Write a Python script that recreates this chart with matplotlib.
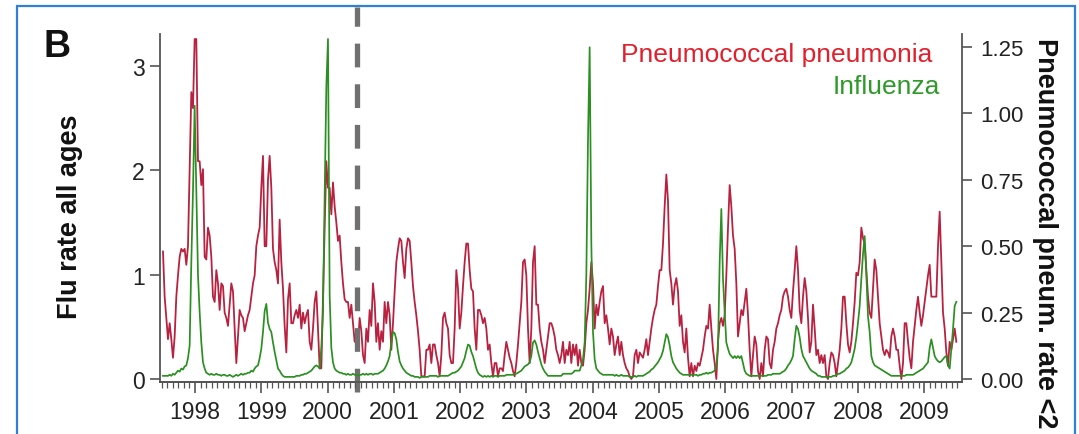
import numpy as np
import matplotlib.pyplot as plt
from matplotlib.ticker import MultipleLocator, FixedLocator
from matplotlib.patches import Rectangle

plt.rcParams['font.family'] = ['Liberation Sans', 'DejaVu Sans']

# sampling grid of the traces (decimal years)
t_start = 1997.517
t_step = 0.02514

# pneumococcal pneumonia rate <2 (right axis)
pneumo = [
    0.48, 0.31, 0.23, 0.15, 0.21, 0.15, 0.08, 0.16, 0.31, 0.39, 0.46, 0.49, 0.48, 0.49, 0.43, 0.50,
    0.79, 1.08, 1.02, 1.28, 1.28, 0.82, 0.82, 0.73, 0.79, 0.46, 0.45, 0.57, 0.54, 0.46, 0.31, 0.29,
    0.41, 0.36, 0.26, 0.36, 0.35, 0.25, 0.23, 0.20, 0.28, 0.36, 0.33, 0.19, 0.06, 0.16, 0.26, 0.24,
    0.23, 0.18, 0.21, 0.24, 0.26, 0.31, 0.36, 0.39, 0.50, 0.54, 0.57, 0.72, 0.84, 0.50, 0.50, 0.75,
    0.84, 0.72, 0.49, 0.44, 0.41, 0.36, 0.60, 0.44, 0.34, 0.20, 0.10, 0.30, 0.36, 0.21,
    # 1999.5 - 2001.5
    0.21, 0.24, 0.26, 0.23, 0.28, 0.19, 0.25, 0.21, 0.24, 0.26,
    0.14, 0.11, 0.19, 0.29, 0.33, 0.19, 0.04, 0.04, 0.31, 0.57,
    0.82, 0.72, 0.72, 0.62, 0.74, 0.65, 0.59, 0.52, 0.54, 0.44,
    0.36, 0.30, 0.29, 0.29, 0.23, 0.28, 0.21, 0.14, 0.18, 0.13,
    0.23, 0.18, 0.09, 0.06, 0.19, 0.14, 0.26, 0.20, 0.36, 0.29,
    0.14, 0.21, 0.11, 0.18, 0.14, 0.29, 0.21, 0.29, 0.24, 0.11,
    0.21, 0.33, 0.44, 0.49, 0.53, 0.52, 0.44, 0.38, 0.49, 0.53,
    0.52, 0.44, 0.35, 0.29, 0.24, 0.18, 0.11, 0.01, 0.01, 0.01,
    0.11,
    # 2001.5 - 2003.5
    0.11, 0.13, 0.06, 0.13, 0.13, 0.09, 0.06, 0.01, 0.09, 0.23,
    0.25, 0.21, 0.19, 0.09, 0.06, 0.06, 0.19, 0.41, 0.34, 0.19,
    0.25, 0.35, 0.44, 0.51, 0.51, 0.41, 0.34, 0.33, 0.19, 0.11,
    0.26, 0.26, 0.24, 0.21, 0.23, 0.19, 0.11, 0.13, 0.06, 0.01,
    0.06, 0.06, 0.01, 0.04, 0.04, 0.03, 0.09, 0.14, 0.11, 0.08,
    0.06, 0.03, 0.01, 0.06, 0.13, 0.21, 0.29, 0.44, 0.45, 0.39,
    0.19, 0.06, 0.19, 0.44, 0.50, 0.28, 0.28, 0.19, 0.14, 0.11,
    0.06, 0.11, 0.16, 0.21, 0.21, 0.19, 0.16, 0.11, 0.09, 0.06,
    0.09,
    # 2003.5 - 2005.5
    0.14, 0.06, 0.11, 0.09, 0.14, 0.06, 0.13, 0.09, 0.13, 0.05,
    0.11, 0.06, 0.05, 0.11, 0.21, 0.26, 0.34, 0.44, 0.36, 0.19,
    0.28, 0.24, 0.29, 0.33, 0.35, 0.21, 0.24, 0.19, 0.13, 0.19,
    0.16, 0.09, 0.13, 0.16, 0.09, 0.14, 0.09, 0.06, 0.04, 0.03,
    0.01, 0.00, 0.01, 0.09, 0.11, 0.06, 0.10, 0.09, 0.08, 0.11,
    0.15, 0.09, 0.14, 0.19, 0.23, 0.26, 0.28, 0.35, 0.41, 0.41,
    0.51, 0.65, 0.77, 0.67, 0.41, 0.36, 0.28, 0.35, 0.38, 0.33,
    0.20, 0.24, 0.14, 0.10, 0.19, 0.08, 0.01, 0.06, 0.01, 0.05,
    0.03,
    # 2005.5 - 2007.5
    0.06, 0.05, 0.08, 0.11, 0.16, 0.20, 0.19, 0.28, 0.19, 0.11,
    0.06, 0.00, 0.14, 0.21, 0.23, 0.20, 0.24, 0.39, 0.57, 0.73,
    0.65, 0.54, 0.49, 0.36, 0.16, 0.21, 0.26, 0.24, 0.29, 0.34,
    0.24, 0.11, 0.01, 0.09, 0.16, 0.13, 0.03, 0.00, 0.06, 0.01,
    0.11, 0.16, 0.15, 0.06, 0.04, 0.11, 0.14, 0.19, 0.21, 0.24,
    0.26, 0.31, 0.33, 0.34, 0.31, 0.26, 0.23, 0.33, 0.41, 0.50,
    0.41, 0.26, 0.21, 0.31, 0.38, 0.33, 0.23, 0.10, 0.14, 0.28,
    0.19, 0.09, 0.11, 0.06, 0.09, 0.06, 0.09, 0.01, 0.00, 0.06,
    0.10,
    # 2007.6 - 2009.5
    0.09, 0.06, 0.01, 0.06, 0.11, 0.19, 0.31, 0.31, 0.21, 0.13,
    0.10, 0.14, 0.21, 0.29, 0.40, 0.39, 0.44, 0.57, 0.53, 0.51,
    0.41, 0.31, 0.25, 0.23, 0.34, 0.45, 0.41, 0.31, 0.21, 0.16,
    0.11, 0.09, 0.11, 0.10, 0.08, 0.16, 0.19, 0.16, 0.11, 0.11,
    0.05, 0.00, 0.06, 0.21, 0.21, 0.14, 0.08, 0.04, 0.14, 0.20,
    0.26, 0.31, 0.25, 0.20, 0.24, 0.29, 0.34, 0.39, 0.43, 0.31,
    0.31, 0.31, 0.31, 0.50, 0.63, 0.44, 0.25, 0.19, 0.10, 0.05,
    0.14, 0.11, 0.15, 0.19, 0.14,
]

# influenza rate, all ages (left axis)
flu = [
    0.03, 0.03, 0.03, 0.03, 0.04, 0.03, 0.05, 0.04, 0.06, 0.08,
    0.07, 0.10, 0.09, 0.12, 0.13, 0.20, 0.32, 1.12, 1.80, 2.62,
    1.80, 1.00, 0.64, 0.35, 0.16, 0.10, 0.06, 0.05, 0.04, 0.05,
    0.04, 0.04, 0.05, 0.04, 0.04, 0.03, 0.04, 0.04, 0.03, 0.03,
    0.04, 0.03, 0.02, 0.03, 0.04, 0.03, 0.04, 0.05, 0.04, 0.05,
    0.05, 0.06, 0.06, 0.08, 0.07, 0.10, 0.12, 0.13, 0.20, 0.29,
    0.45, 0.65, 0.72, 0.54, 0.48, 0.45, 0.35, 0.26, 0.18, 0.10,
    0.08, 0.05, 0.03, 0.02, 0.02, 0.02, 0.02, 0.02,
    # 1999.5 - 2001.5
    0.02, 0.02, 0.03, 0.03, 0.03, 0.04, 0.04, 0.05, 0.05, 0.06,
    0.07, 0.08, 0.10, 0.12, 0.13, 0.12, 0.10, 0.30, 0.64, 1.76,
    2.80, 3.26, 0.80, 0.30, 0.16, 0.10, 0.08, 0.07, 0.06, 0.06,
    0.05, 0.05, 0.04, 0.05, 0.04, 0.04, 0.05, 0.04, 0.04, 0.03,
    0.04, 0.04, 0.05, 0.04, 0.05, 0.04, 0.05, 0.05, 0.04, 0.05,
    0.05, 0.05, 0.06, 0.07, 0.08, 0.10, 0.13, 0.17, 0.22, 0.35,
    0.45, 0.44, 0.38, 0.26, 0.17, 0.13, 0.10, 0.08, 0.06, 0.05,
    0.04, 0.03, 0.03, 0.02, 0.02, 0.02, 0.01, 0.02, 0.02, 0.02,
    0.02,
    # 2001.5 - 2003.5
    0.02, 0.03, 0.03, 0.03, 0.03, 0.03, 0.02, 0.03, 0.03, 0.03,
    0.03, 0.03, 0.03, 0.04, 0.05, 0.06, 0.06, 0.07, 0.08, 0.10,
    0.12, 0.16, 0.20, 0.27, 0.33, 0.32, 0.26, 0.22, 0.16, 0.10,
    0.06, 0.04, 0.03, 0.02, 0.03, 0.02, 0.03, 0.02, 0.03, 0.02,
    0.03, 0.03, 0.02, 0.03, 0.03, 0.03, 0.03, 0.04, 0.04, 0.04,
    0.04, 0.04, 0.05, 0.05, 0.06, 0.07, 0.08, 0.10, 0.12, 0.13,
    0.14, 0.16, 0.22, 0.35, 0.37, 0.33, 0.26, 0.20, 0.14, 0.10,
    0.07, 0.05, 0.03, 0.03, 0.03, 0.03, 0.03, 0.03, 0.03, 0.03,
    0.03,
    # 2003.5 - 2005.5
    0.05, 0.05, 0.05, 0.05, 0.05, 0.05, 0.06, 0.08, 0.08, 0.08,
    0.08, 0.13, 0.19, 0.35, 1.00, 2.30, 3.18, 1.30, 0.45, 0.19,
    0.10, 0.08, 0.06, 0.05, 0.04, 0.04, 0.04, 0.04, 0.04, 0.04,
    0.04, 0.03, 0.04, 0.03, 0.03, 0.04, 0.03, 0.03, 0.03, 0.03,
    0.02, 0.02, 0.02, 0.03, 0.02, 0.03, 0.03, 0.03, 0.03, 0.04,
    0.05, 0.06, 0.07, 0.09, 0.10, 0.12, 0.14, 0.16, 0.19, 0.22,
    0.27, 0.35, 0.43, 0.40, 0.32, 0.22, 0.16, 0.13, 0.10, 0.08,
    0.06, 0.05, 0.04, 0.04, 0.04, 0.04, 0.04, 0.04, 0.04, 0.04,
    0.04,
    # 2005.5 - 2007.5
    0.03, 0.04, 0.04, 0.05, 0.05, 0.06, 0.05, 0.06, 0.06, 0.07,
    0.08, 0.13, 0.29, 1.12, 1.63, 0.96, 0.64, 0.35, 0.29, 0.24,
    0.22, 0.20, 0.22, 0.20, 0.22, 0.20, 0.22, 0.15, 0.08, 0.05,
    0.04, 0.03, 0.03, 0.03, 0.03, 0.03, 0.03, 0.03, 0.03, 0.03,
    0.03, 0.03, 0.04, 0.04, 0.04, 0.05, 0.05, 0.05, 0.05, 0.05,
    0.06, 0.07, 0.08, 0.10, 0.13, 0.15, 0.18, 0.22, 0.38, 0.51,
    0.48, 0.40, 0.29, 0.22, 0.19, 0.16, 0.13, 0.10, 0.08, 0.07,
    0.06, 0.05, 0.03, 0.03, 0.02, 0.02, 0.02, 0.02, 0.02, 0.02,
    0.02,
    # 2007.6 - 2009.5
    0.03, 0.03, 0.04, 0.05, 0.05, 0.06, 0.07, 0.08, 0.10, 0.11,
    0.13, 0.16, 0.22, 0.29, 0.40, 0.54, 0.70, 0.96, 1.20, 1.37,
    1.00, 0.60, 0.45, 0.22, 0.16, 0.13, 0.12, 0.11, 0.10, 0.09,
    0.08, 0.07, 0.06, 0.05, 0.04, 0.03, 0.03, 0.03, 0.03, 0.03,
    0.03, 0.03, 0.03, 0.03, 0.04, 0.04, 0.04, 0.04, 0.04, 0.05,
    0.06, 0.07, 0.08, 0.09, 0.10, 0.12, 0.14, 0.16, 0.30, 0.38,
    0.30, 0.22, 0.19, 0.17, 0.16, 0.17, 0.19, 0.21, 0.22, 0.13,
    0.10, 0.29, 0.48, 0.70, 0.74,
]

year_ticks = list(range(1998, 2010))
flu_ticks = [0, 1, 2, 3]
pneumo_ticks = [0.0, 0.25, 0.5, 0.75, 1.0, 1.25]
pcv_intro = 2000.44

red = '#b82240'
green = '#2b8f22'
axis_grey = '#555555'
text_dark = '#222222'

fig = plt.figure(figsize=(10.79, 4.35), dpi=100)
ax = fig.add_axes([160 / 1079, 52 / 435, 802 / 1079, 348 / 435])
ax2 = ax.twinx()
ax.set_zorder(ax2.get_zorder() + 1)
ax.patch.set_visible(False)

years_p = t_start + t_step * np.arange(len(pneumo))
years_f = t_start + t_step * np.arange(len(flu))
ax2.plot(years_p, pneumo, color=red, lw=1.3)
ax.plot(years_f, flu, color=green, lw=1.25)

ax.axvline(pcv_intro, ymin=-0.03, ymax=1.078, color='#707070', lw=3.8,
           ls=(0, (4.5, 3.2)), clip_on=False, zorder=1)

ax.set_xlim(1997.472, 2009.569)
ax.set_ylim(-0.029, 3.308)
ax2.set_ylim(-0.0113, 1.299)

for a in (ax, ax2):
    a.spines['top'].set_visible(False)
    for s in a.spines.values():
        s.set_color(axis_grey)
        s.set_linewidth(1.3)
ax.spines['right'].set_visible(False)
ax2.spines['left'].set_visible(False)

ax.xaxis.set_major_locator(FixedLocator(year_ticks))
ax.xaxis.set_minor_locator(MultipleLocator(1 / 12))
ax.set_yticks(flu_ticks)
ax2.set_yticks(pneumo_ticks)
ax2.set_yticklabels(['%.2f' % v for v in pneumo_ticks])

ax.tick_params(axis='x', which='major', length=8, width=1.2, colors=axis_grey,
               labelcolor=text_dark, labelsize=16.5, pad=5)
ax.tick_params(axis='x', which='minor', length=4.5, width=0.9, colors=axis_grey)
ax.tick_params(axis='y', length=7, width=1.2, colors=axis_grey,
               labelcolor=text_dark, labelsize=16.5, pad=4)
ax2.tick_params(axis='y', length=7, width=1.2, colors=axis_grey,
                labelcolor=text_dark, labelsize=16, pad=6)

fig.text(932 / 1079, 1 - 55 / 435, 'Pneumococcal pneumonia', ha='right', va='center',
         color='#e0202c', fontsize=19)
fig.text(940 / 1079, 1 - 87 / 435, 'Influenza', ha='right', va='center',
         color='#2f9a2a', fontsize=19)

fig.text(70 / 1079, 1 - 217 / 435, 'Flu rate all ages', rotation=90, ha='center',
         va='center', fontsize=19.5, fontweight='bold', color='#111111')
fig.text(1045 / 1079, 1 - 38 / 435, 'Pneumococcal pneum. rate <2', rotation=-90,
         ha='center', va='top', fontsize=19.5, fontweight='bold', color='#111111')
fig.text(43 / 1079, 1 - 57 / 435, 'B', ha='left', va='baseline', fontsize=27,
         fontweight='bold', color='#111111')

fig.add_artist(Rectangle((17 / 1079, -0.05), 1058 / 1079, 1 - 7 / 435 + 0.05,
                         transform=fig.transFigure, fill=False,
                         edgecolor='#2f80d8', lw=1.6))

fig.savefig('out.png', dpi=100)
